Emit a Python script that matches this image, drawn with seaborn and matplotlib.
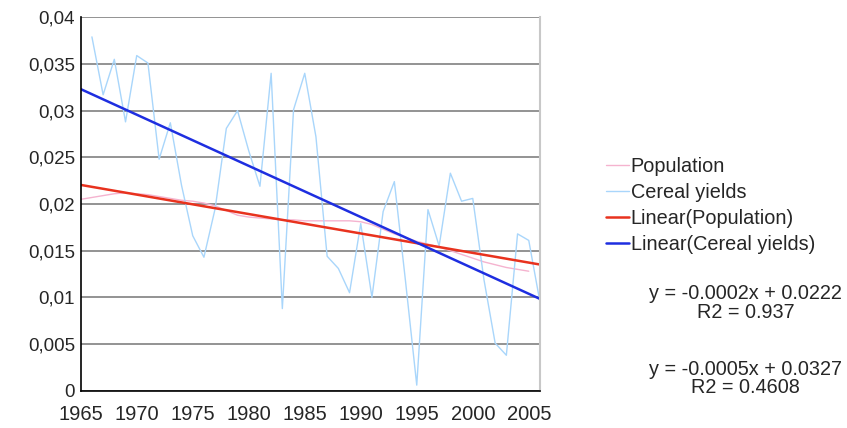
import numpy as np
import pandas as pd
import matplotlib
matplotlib.use("Agg")
import matplotlib.pyplot as plt
import seaborn as sns

# values
pop_years = list(range(1965, 2006))
population = [0.0205, 0.0207, 0.0209, 0.0211, 0.0212, 0.0211, 0.0210, 0.0208, 0.0206, 0.0204,
              0.0203, 0.0201, 0.0198, 0.0193, 0.0188, 0.0186, 0.0185, 0.0184, 0.0183, 0.0183,
              0.0182, 0.0182, 0.0182, 0.0182, 0.0182, 0.0181, 0.0178, 0.0173, 0.0168, 0.0164,
              0.0160, 0.0157, 0.0154, 0.0150, 0.0146, 0.0142, 0.0138, 0.0135, 0.0132, 0.0130,
              0.0128]

cereal_years = list(range(1966, 2007))
cereal_yields = [0.0379, 0.0317, 0.0355, 0.0288, 0.0359, 0.0351, 0.0248, 0.0287, 0.0220, 0.0166,
                 0.0143, 0.0195, 0.0281, 0.0300, 0.0257, 0.0219, 0.0340, 0.0088, 0.0301, 0.0340,
                 0.0272, 0.0144, 0.0131, 0.0105, 0.0179, 0.0100, 0.0192, 0.0224, 0.0117, 0.0006,
                 0.0194, 0.0155, 0.0233, 0.0203, 0.0206, 0.0119, 0.0051, 0.0038, 0.0168, 0.0161,
                 0.0095]

x_ticks = [1965, 1970, 1975, 1980, 1985, 1990, 1995, 2000, 2005]
y_ticks = [0, 0.005, 0.01, 0.015, 0.02, 0.025, 0.03, 0.035, 0.04]
y_tick_labels = ["0", "0,005", "0,01", "0,015", "0,02", "0,025", "0,03", "0,035", "0,04"]
legend_labels = ["Population", "Cereal yields", "Linear(Population)", "Linear(Cereal yields)"]
equations = ["y = -0.0002x + 0.0222\nR2 = 0.937", "y = -0.0005x + 0.0327\nR2 = 0.4608"]

sns.set_style("white")
plt.rcParams['font.family'] = ['Liberation Sans', 'DejaVu Sans']

fig = plt.figure(figsize=(8.47, 4.28), dpi=100)
ax = fig.add_axes([0.0953, 0.0871, 0.5422, 0.8725])

x_lim = (1965, 2006)

pop_df = pd.DataFrame({"year": pop_years, "value": population})
cer_df = pd.DataFrame({"year": cereal_years, "value": cereal_yields})

sns.lineplot(data=pop_df, x="year", y="value", ax=ax, color="#f5b3cf", linewidth=1.0,
             label=legend_labels[0])
sns.lineplot(data=cer_df, x="year", y="value", ax=ax, color="#a9d6fb", linewidth=1.0,
             label=legend_labels[1])

# linear trend lines fitted to each series
ends = np.array(x_lim, dtype=float)
p_fit = np.polyfit(pop_years, population, 1)
c_fit = np.polyfit(cereal_years, cereal_yields, 1)
sns.lineplot(x=ends, y=np.polyval(p_fit, ends), ax=ax, color="#e8321e", linewidth=1.8,
             label=legend_labels[2])
sns.lineplot(x=ends, y=np.polyval(c_fit, ends), ax=ax, color="#1e2ee0", linewidth=1.8,
             label=legend_labels[3])

ax.set_xlim(*x_lim)
ax.set_ylim(0, 0.04)
ax.set_xticks(x_ticks)
ax.set_xticklabels([str(t) for t in x_ticks], fontsize=14.5)
ax.set_yticks(y_ticks)
ax.set_yticklabels(y_tick_labels, fontsize=13.5)
ax.set_xlabel("")
ax.set_ylabel("")
ax.set_axisbelow(True)
ax.yaxis.grid(True, color="#808080", linewidth=1.2)
ax.xaxis.grid(False)
ax.tick_params(axis="both", direction="inout", length=7, width=1, color="#555555")
ax.tick_params(axis="x", pad=7)
ax.tick_params(axis="y", pad=0.5)

ax.spines["top"].set_visible(False)
ax.spines["right"].set_color("#c8c8c8")
ax.spines["right"].set_linewidth(1.5)
ax.spines["left"].set_color("black")
ax.spines["bottom"].set_color("black")
ax.spines["left"].set_linewidth(1.2)
ax.spines["bottom"].set_linewidth(1.2)

leg = ax.legend(loc="upper left", bbox_to_anchor=(0.706, 0.652), bbox_transform=fig.transFigure,
                frameon=False, fontsize=14.3, handlelength=1.15, handletextpad=0.1,
                labelspacing=0.36, borderaxespad=0)

fig.text(0.88, 0.293, equations[0], ha="center", va="center", fontsize=14.3,
         multialignment="center", linespacing=1.0)
fig.text(0.88, 0.115, equations[1], ha="center", va="center", fontsize=14.3,
         multialignment="center", linespacing=0.95)

fig.savefig("out.png", dpi=100)
